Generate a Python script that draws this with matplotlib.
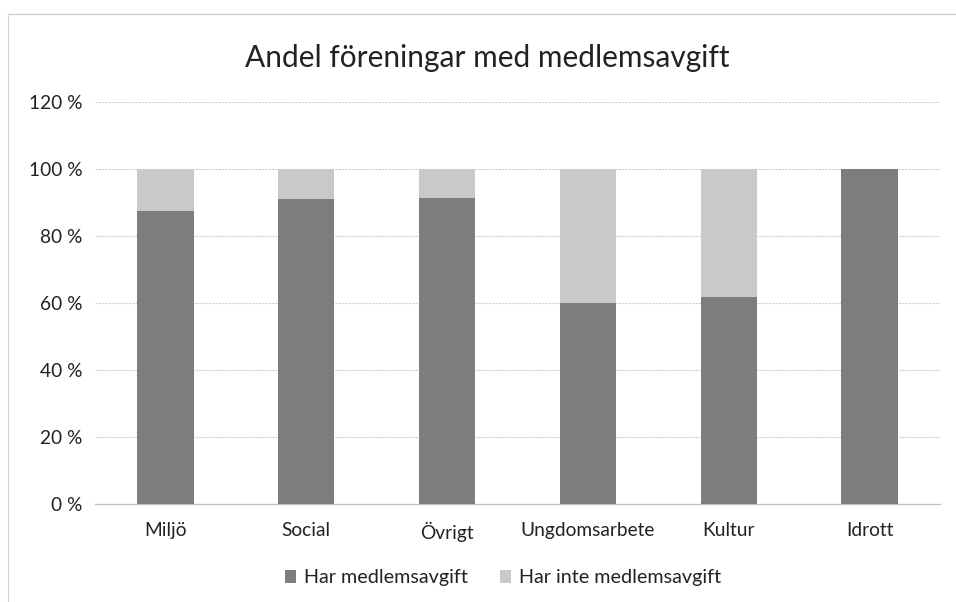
import matplotlib.pyplot as plt
from matplotlib.ticker import FuncFormatter
from matplotlib.lines import Line2D

categories = ["Miljö", "Social", "Övrigt", "Ungdomsarbete", "Kultur", "Idrott"]
har = [87.5, 91.0, 91.2, 60.0, 61.8, 100.0]
har_inte = [12.5, 9.0, 8.8, 40.0, 38.2, 0.0]
yticks = [0, 20, 40, 60, 80, 100, 120]

plt.rcParams['font.family'] = ['Lato', 'DejaVu Sans']

fig = plt.figure(figsize=(9.56, 6.02), dpi=100)
ax = fig.add_axes([95/956, 1-504/602, 845/956, (504-102)/602])

x = range(len(categories))
dark = '#7d7d7d'
light = '#c9c9c9'
ax.bar(x, har, width=0.4, color=dark, label='Har medlemsavgift', zorder=3)
ax.bar(x, har_inte, width=0.4, bottom=har, color=light, label='Har inte medlemsavgift', zorder=3)

ax.set_xlim(-0.5, len(categories)-0.5)
ax.set_ylim(0, 120)
ax.set_yticks(yticks)
ax.yaxis.set_major_formatter(FuncFormatter(lambda v, p: f"{int(v)} %"))
ax.set_xticks(list(x))
ax.set_xticklabels(categories)
ax.tick_params(axis='both', length=0, labelsize=13.8, colors='#222222')
ax.tick_params(axis='x', pad=13)
ax.tick_params(axis='y', pad=9)
ax.grid(axis='y', color='#cfcfcf', linewidth=0.8, linestyle=(0, (2, 1)), zorder=0)
for s in ['top', 'right', 'left']:
    ax.spines[s].set_visible(False)
ax.spines['bottom'].set_color('#bdbdbd')
ax.spines['bottom'].set_linewidth(0.9)

fig.text(0.51, 1-58/602, "Andel föreningar med medlemsavgift", ha='center', va='center',
         fontsize=21.5, color='#222222')

handles, labels = ax.get_legend_handles_labels()
fig.legend(handles, labels, loc='center', bbox_to_anchor=(503/956, 1-578/602), ncol=2,
           frameon=False, fontsize=14.2, handlelength=0.6, handleheight=0.6,
           handletextpad=0.4, columnspacing=1.6, labelcolor='#222222')

# chart border
fig.add_artist(Line2D([8/956, 1], [1-14/602, 1-14/602], color='#c8c8c8', linewidth=0.8))
fig.add_artist(Line2D([8/956, 8/956], [0, 1-14/602], color='#d5d5d5', linewidth=0.8))

fig.savefig('out.png', dpi=100)
